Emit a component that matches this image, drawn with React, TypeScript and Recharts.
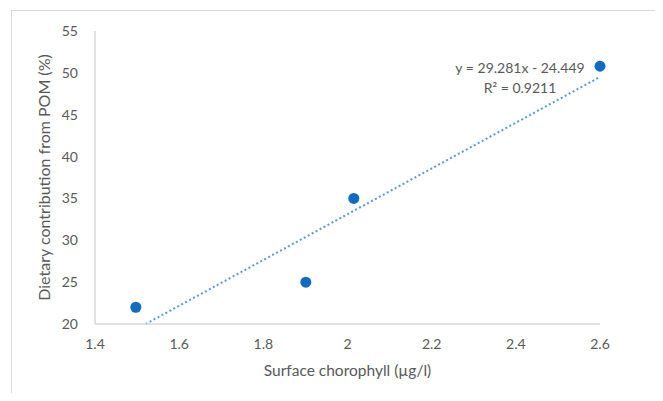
import React from 'react';
import { ScatterChart, Scatter, XAxis, YAxis, ReferenceLine } from 'recharts';

const chlorophyll = [1.497, 1.901, 2.015, 2.6];
const pomContribution = [22, 25, 35, 50.8];
const xTicks = [1.4, 1.6, 1.8, 2, 2.2, 2.4, 2.6];
const yTicks = [20, 25, 30, 35, 40, 45, 50, 55];
const equationLines = ['y = 29.281x - 24.449', 'R² = 0.9211'];

const FONT = 'Lato, "Open Sans", sans-serif';
const TEXT = '#595959';
const GRID = '#d9d9d9';

const points = chlorophyll.map((x, i) => ({ x, y: pomContribution[i] }));

// least squares trendline, clipped to the y axis minimum like Excel does
function fitLine(xs: number[], ys: number[]) {
  const n = xs.length;
  const mx = xs.reduce((a, b) => a + b, 0) / n;
  const my = ys.reduce((a, b) => a + b, 0) / n;
  let sxy = 0;
  let sxx = 0;
  xs.forEach((x, i) => {
    sxy += (x - mx) * (ys[i] - my);
    sxx += (x - mx) * (x - mx);
  });
  const m = sxy / sxx;
  return { m, b: my - m * mx };
}

const { m, b } = fitLine(chlorophyll, pomContribution);
const yMin = yTicks[0];
const x0 = Math.max(Math.min(...chlorophyll), (yMin - b) / m);
const x1 = Math.max(...chlorophyll);
const trend = [
  { x: x0, y: m * x0 + b },
  { x: x1, y: m * x1 + b },
];

function YTitle({ viewBox }: any) {
  const cy = viewBox.y + viewBox.height / 2;
  const cx = 43;
  return (
    <text
      x={cx}
      y={cy}
      transform={`rotate(-90, ${cx}, ${cy})`}
      textAnchor="middle"
      dominantBaseline="central"
      fill={TEXT}
      fontSize={16}
      fontFamily={FONT}
    >
      Dietary contribution from POM (%)
    </text>
  );
}

export default function App() {
  return (
    <div style={{ position: 'relative', margin: -8, width: 663, height: 401, overflow: 'hidden', background: '#fff' }}>
      <div
        style={{
          position: 'absolute',
          left: 11,
          top: 10,
          width: 700,
          height: 450,
          borderLeft: `1px solid ${GRID}`,
          borderTop: `1px solid ${GRID}`,
        }}
      />
      <div style={{ position: 'absolute', left: 0, top: 0 }}>
        <ScatterChart width={663} height={401} margin={{ top: 31, right: 63, bottom: 17, left: 0 }}>
          <XAxis
            type="number"
            dataKey="x"
            domain={[1.4, 2.6]}
            ticks={xTicks}
            tickFormatter={(v) => String(v)}
            axisLine={{ stroke: GRID, strokeWidth: 1.5 }}
            tickLine={false}
            tickMargin={9}
            height={60}
            tick={{ fill: TEXT, fontSize: 14, fontFamily: FONT }}
            label={{
              value: 'Surface chorophyll (µg/l)',
              position: 'insideBottom',
              offset: 8,
              fill: TEXT,
              fontSize: 15.5,
              fontFamily: FONT,
            }}
          />
          <YAxis
            type="number"
            dataKey="y"
            domain={[20, 55]}
            ticks={yTicks}
            axisLine={{ stroke: GRID, strokeWidth: 1.5 }}
            tickLine={false}
            tickMargin={11}
            width={95}
            tick={{ fill: TEXT, fontSize: 14, fontFamily: FONT }}
            label={{ content: (p: any) => <YTitle {...p} /> }}
          />
          <ReferenceLine
            segment={trend}
            stroke="#5b9bd5"
            strokeWidth={2}
            strokeDasharray="2 2.5"
            ifOverflow="visible"
          />
          <Scatter
            data={points}
            isAnimationActive={false}
            shape={(p: any) => <circle cx={p.cx} cy={p.cy} r={5.5} fill="#0f6cc2" />}
          />
        </ScatterChart>
      </div>
      <div
        style={{
          position: 'absolute',
          left: 420,
          top: 58,
          width: 200,
          textAlign: 'center',
          color: TEXT,
          fontFamily: FONT,
          fontSize: 14,
          lineHeight: '20px',
        }}
      >
        {equationLines.map((l) => (
          <div key={l}>{l}</div>
        ))}
      </div>
    </div>
  );
}
